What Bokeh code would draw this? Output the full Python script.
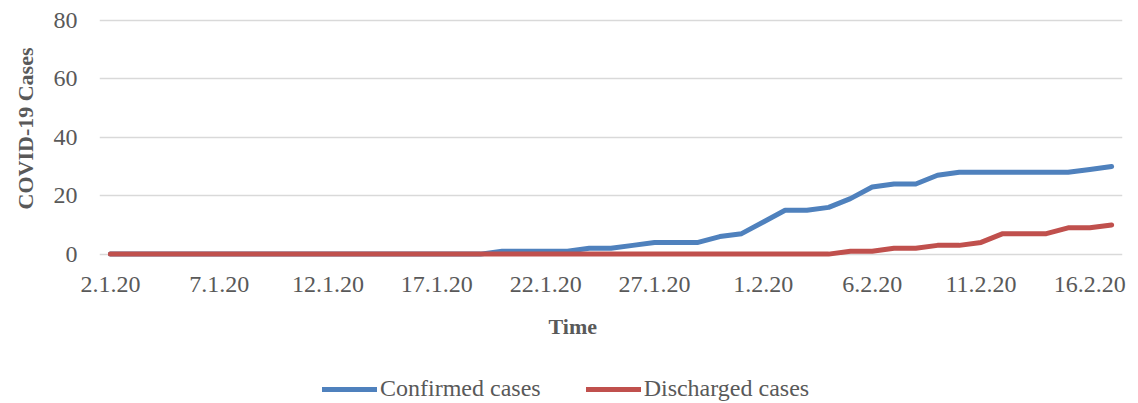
from bokeh.plotting import figure
from bokeh.models import Legend, LegendItem, FixedTicker, Title, Range1d
from bokeh.layouts import column
from bokeh.embed import file_html
from bokeh.resources import INLINE

dates = ["2.1.20", "3.1.20", "4.1.20", "5.1.20", "6.1.20", "7.1.20", "8.1.20", "9.1.20",
         "10.1.20", "11.1.20", "12.1.20", "13.1.20", "14.1.20", "15.1.20", "16.1.20",
         "17.1.20", "18.1.20", "19.1.20", "20.1.20", "21.1.20", "22.1.20", "23.1.20",
         "24.1.20", "25.1.20", "26.1.20", "27.1.20", "28.1.20", "29.1.20", "30.1.20",
         "31.1.20", "1.2.20", "2.2.20", "3.2.20", "4.2.20", "5.2.20", "6.2.20", "7.2.20",
         "8.2.20", "9.2.20", "10.2.20", "11.2.20", "12.2.20", "13.2.20", "14.2.20",
         "15.2.20", "16.2.20", "17.2.20"]

confirmed = [0, 0, 0, 0, 0, 0, 0, 0, 0, 0, 0, 0, 0, 0, 0, 0, 0, 0,
             1, 1, 1, 1, 2, 2, 3, 4, 4, 4, 6, 7, 11, 15, 15, 16, 19, 23,
             24, 24, 27, 28, 28, 28, 28, 28, 28, 29, 30]

discharged = [0, 0, 0, 0, 0, 0, 0, 0, 0, 0, 0, 0, 0, 0, 0, 0, 0, 0,
              0, 0, 0, 0, 0, 0, 0, 0, 0, 0, 0, 0, 0, 0, 0, 0, 1, 1,
              2, 2, 3, 3, 4, 7, 7, 7, 9, 9, 10]

y_ticks = [0, 20, 40, 60, 80]
series_names = ["Confirmed cases", "Discharged cases"]
colors = ["#4F81BD", "#C0504D"]

FONT = "Liberation Serif"
TXT = "#595959"

x = list(range(len(dates)))

p = figure(frame_width=1023, frame_height=241,
           x_range=Range1d(-0.5, len(dates) - 0.5), y_range=Range1d(-1.5, 81),
           min_border_left=99, min_border_right=16, min_border_top=17, min_border_bottom=110,
           output_backend="svg", toolbar_location=None)
p.outline_line_color = None
p.background_fill_color = "white"
p.border_fill_color = "white"

p.line(x, confirmed, line_color=colors[0], line_width=5, line_join="round", line_cap="round")
p.line(x, discharged, line_color=colors[1], line_width=5, line_join="round", line_cap="round")

# x axis
xa = p.xaxis[0]
xa.ticker = FixedTicker(ticks=x[::5])
xa.major_label_overrides = {i: dates[i] for i in x[::5]}
xa.axis_line_color = None
xa.major_tick_line_color = None
xa.minor_tick_line_color = None
xa.major_tick_out = 0
xa.major_tick_in = 0
xa.major_label_standoff = 18
xa.major_label_text_font = FONT
xa.major_label_text_font_size = "24px"
xa.major_label_text_color = TXT

# y axis
ya = p.yaxis[0]
ya.ticker = FixedTicker(ticks=y_ticks)
ya.axis_line_color = None
ya.major_tick_line_color = None
ya.minor_tick_line_color = None
ya.major_tick_out = 0
ya.major_tick_in = 0
ya.major_label_standoff = 22
ya.major_label_text_font = FONT
ya.major_label_text_font_size = "24px"
ya.major_label_text_color = TXT

p.xgrid.grid_line_color = None
p.ygrid.ticker = FixedTicker(ticks=y_ticks)
p.ygrid.grid_line_color = "#D9D9D9"
p.ygrid.grid_line_width = 1.5

xt = Title(text="Time", align="left", offset=449, standoff=34,
           text_font=FONT, text_font_style="bold", text_font_size="22px", text_color=TXT)
p.add_layout(xt, "below")

yt = Title(text="COVID-19 Cases", align="right", offset=30, standoff=22, vertical_align="top",
           text_font=FONT, text_font_style="bold", text_font_size="22px", text_color=TXT)
p.add_layout(yt, "left")

# legend strip below the chart (proxy lines use the same data, kept outside the view)
lg = figure(frame_width=1138, frame_height=35, min_border=0,
            x_range=Range1d(-0.5, len(dates) - 0.5), y_range=Range1d(1000, 1001),
            output_backend="svg", toolbar_location=None)
lg.axis.visible = False
lg.grid.visible = False
lg.outline_line_color = None
lg.border_fill_color = "white"
lg.background_fill_color = "white"
l1 = lg.line(x, confirmed, line_color=colors[0], line_width=5, line_cap="round")
l2 = lg.line(x, discharged, line_color=colors[1], line_width=5, line_cap="round")

legend = Legend(items=[LegendItem(label=series_names[0], renderers=[l1]),
                       LegendItem(label=series_names[1], renderers=[l2])],
                orientation="horizontal", location=(322, 1),
                glyph_width=55, glyph_height=24, label_standoff=3, spacing=45,
                padding=0, margin=0, border_line_color=None, background_fill_alpha=0,
                label_text_font=FONT, label_text_font_size="24px", label_text_color=TXT)
lg.add_layout(legend, "center")

layout = column(p, lg, spacing=0)
open("out.html", "w").write(file_html(layout, INLINE))
